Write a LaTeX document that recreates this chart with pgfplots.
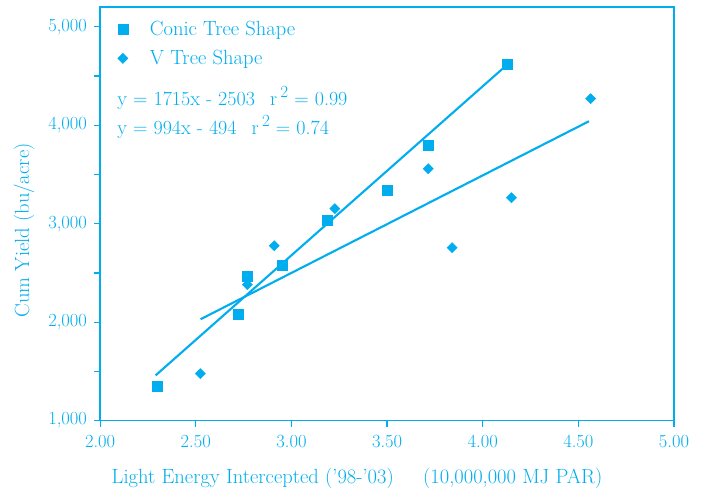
\documentclass[border=0pt]{standalone}
\usepackage{pgfplots}
\pgfplotsset{compat=1.18}
\definecolor{cy}{RGB}{0,174,239}
\begin{document}
\begin{tikzpicture}
\begin{axis}[
 width=573pt, height=413pt, scale only axis,
 xmin=2, xmax=5, ymin=1000, ymax=5200,
 xtick={2,2.5,3,3.5,4,4.5,5},
 ytick={1000,2000,3000,4000,5000},
 minor ytick={1500,2500,3500,4500},
 /pgf/number format/assume math mode=true,
 xticklabel style={/pgf/number format/fixed, /pgf/number format/fixed zerofill, /pgf/number format/precision=2, yshift=-5pt},
 yticklabel style={/pgf/number format/1000 sep={,}, inner sep=2pt, xshift=-5pt},
 scaled y ticks=false,
 tick align=outside, xtick pos=bottom, ytick pos=left,
 major tick length=6pt, minor tick length=6pt,
 axis line style={cy, line width=1.5pt},
 every tick/.style={cy, line width=1.2pt},
 tick label style={text=cy, font=\fontsize{18.5}{21}\selectfont},
 xlabel={Light Energy Intercepted ('98-'03)},
 ylabel={Cum Yield (bu/acre)},
 label style={text=cy, font=\fontsize{20.5}{24}\selectfont},
 xlabel style={at={(rel axis cs:0.266,-0.140)}, anchor=center},
 ylabel style={at={(rel axis cs:-0.1326,0.46)}, anchor=center},
 legend cell align=left,
 legend style={at={(rel axis cs:0.025,0.975)}, anchor=north west, draw=none, fill=none,
   font=\fontsize{20.5}{24}\selectfont, text=cy, row sep=9pt,
   /tikz/every odd column/.append style={column sep=20pt}},
 clip=false,
]
\addplot[only marks, mark=square*, mark size=5pt, mark options={fill=cy, draw=cy, line width=0.4pt}]
 coordinates {(2.30,1350) (2.724,2086) (2.77,2462) (2.954,2574) (3.185,3040) (3.50,3345) (3.715,3802) (4.13,4624)};
\addlegendentry{Conic Tree Shape}
\addplot[only marks, mark=square*, mark size=3.6pt, mark options={fill=cy, draw=cy, line width=0.4pt, rotate=45}]
 coordinates {(2.524,1477) (2.77,2381) (2.91,2777) (3.227,3152) (3.715,3558) (3.84,2756) (4.15,3264) (4.564,4269)};
\addlegendentry{V Tree Shape}
\addplot[cy, line width=2.1pt, forget plot] coordinates {(2.29,1460) (4.125,4610)};
\addplot[cy, line width=2.1pt, forget plot] coordinates {(2.525,2030) (4.555,4040)};
\node[anchor=west, text=cy, font=\fontsize{20}{24}\selectfont, inner sep=0pt] at (rel axis cs:0.0297,0.781)
 {y = 1715x - 2503\hspace{15pt}r\,\raisebox{0.4em}{\fontsize{17}{17}\selectfont 2} = 0.99};
\node[anchor=west, text=cy, font=\fontsize{20}{24}\selectfont, inner sep=0pt] at (rel axis cs:0.0297,0.711)
 {y = 994x - 494\hspace{15pt}r\,\raisebox{0.4em}{\fontsize{17}{17}\selectfont 2} = 0.74};
\node[anchor=center, text=cy, font=\fontsize{20.5}{24}\selectfont] at (rel axis cs:0.719,-0.140) {(10,000,000 MJ PAR)};
\coordinate (bl) at (rel axis cs:-0.1745,-0.1695);
\coordinate (tr) at (rel axis cs:1.047,1.017);
\end{axis}
\pgfresetboundingbox
\useasboundingbox (bl) rectangle (tr);
\end{tikzpicture}
\end{document}
